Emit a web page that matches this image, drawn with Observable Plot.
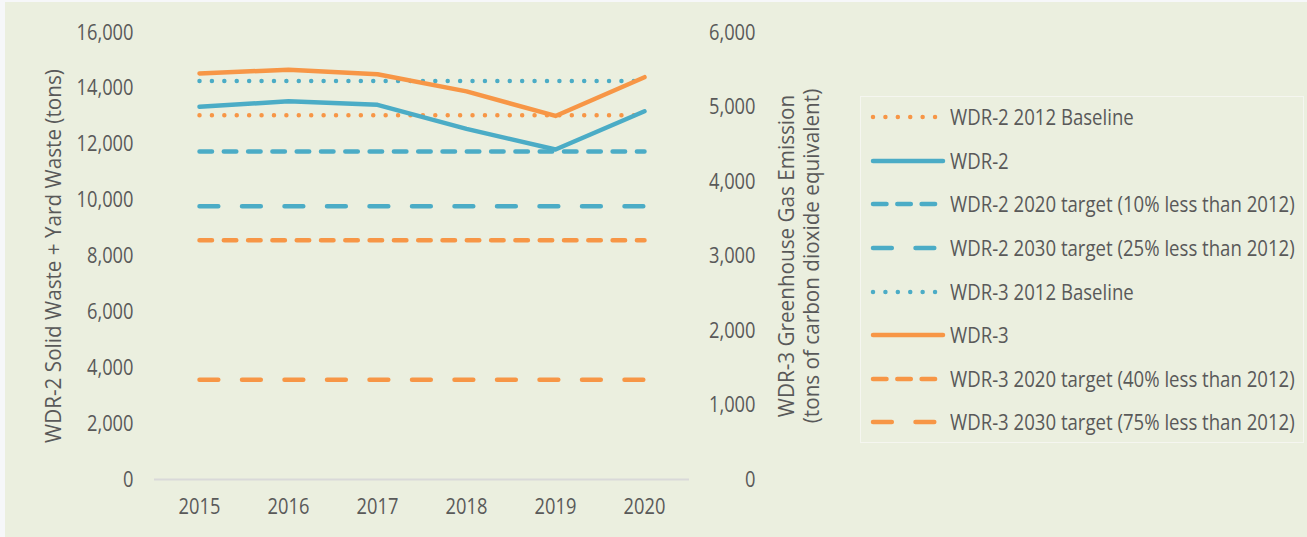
<!DOCTYPE html>
<html>
<head>
<meta charset="utf-8">
<script src="https://cdn.jsdelivr.net/npm/d3@7"></script>
<script src="https://cdn.jsdelivr.net/npm/@observablehq/plot@0.6"></script>
<style>
  html, body { margin: 0; padding: 0; background: #F6F7F9; }
  #bg { position: absolute; left: 5px; top: 2px; width: 1302px; height: 535px; background: #EBEFDF; }
  #chart { position: absolute; left: 0; top: 0; }
  #legend { position: absolute; left: 860px; top: 96px; width: 444px; height: 347px; border: 1.5px solid #F5F6F0; box-sizing: border-box;
    font-family: "Open Sans", sans-serif; font-size: 22px; color: #595959; }
  .row { position: absolute; left: 0; height: 43.6px; display: flex; align-items: center; white-space: nowrap; }
  .row svg { margin-left: 9px; margin-right: 3px; flex: none; }
  .row span { display: inline-block; transform: scaleX(0.845); transform-origin: left center; position: relative; top: -1px; }
</style>
</head>
<body>
<div id="bg"></div>
<div id="chart"></div>
<div id="legend"></div>
<script>
const years = [2015, 2016, 2017, 2018, 2019, 2020];
const wdr2 = [13340, 13540, 13410, 12550, 11810, 13180];
const wdr2Baseline = [13040, 13040, 13040, 13040, 13040, 13040];
const wdr2Target2020 = [11740, 11740, 11740, 11740, 11740, 11740];
const wdr2Target2030 = [9780, 9780, 9780, 9780, 9780, 9780];
const wdr3 = [5450, 5500, 5440, 5210, 4880, 5400];
const wdr3Baseline = [5350, 5350, 5350, 5350, 5350, 5350];
const wdr3Target2020 = [3210, 3210, 3210, 3210, 3210, 3210];
const wdr3Target2030 = [1340, 1340, 1340, 1340, 1340, 1340];
const leftTicks = [0, 2000, 4000, 6000, 8000, 10000, 12000, 14000, 16000];
const rightTicks = [0, 1000, 2000, 3000, 4000, 5000, 6000];
const leftTitle = "WDR-2 Solid Waste + Yard Waste (tons)";
const rightTitle = "WDR-3 Greenhouse Gas Emission\n(tons of carbon dioxide equivalent)";

const ORANGE = "#F79646", BLUE = "#4BACC6";
const DOT = "0.01 12.4", DASH = "12.5 11.8", LONG = "18.8 23.7";
const series = [
  {name: "WDR-2 2012 Baseline", values: wdr2Baseline, axis: "left", color: ORANGE, dash: DOT, legendDash: "0.01 12.4"},
  {name: "WDR-2", values: wdr2, axis: "left", color: BLUE, dash: null, legendDash: null},
  {name: "WDR-2 2020 target (10% less than 2012)", values: wdr2Target2020, axis: "left", color: BLUE, dash: DASH, legendDash: "13.5 10.8"},
  {name: "WDR-2 2030 target (25% less than 2012)", values: wdr2Target2030, axis: "left", color: BLUE, dash: LONG, legendDash: "18.8 23.7"},
  {name: "WDR-3 2012 Baseline", values: wdr3Baseline, axis: "right", color: BLUE, dash: DOT, legendDash: "0.01 12.4"},
  {name: "WDR-3", values: wdr3, axis: "right", color: ORANGE, dash: null, legendDash: null},
  {name: "WDR-3 2020 target (40% less than 2012)", values: wdr3Target2020, axis: "right", color: ORANGE, dash: DASH, legendDash: "13.5 10.8"},
  {name: "WDR-3 2030 target (75% less than 2012)", values: wdr3Target2030, axis: "right", color: ORANGE, dash: LONG, legendDash: "18.8 23.7"}
];
const ratio = leftTicks[leftTicks.length - 1] / rightTicks[rightTicks.length - 1];
const fmt = d3.format(",");
const SQUEEZE = 0.83, TITLE_SQUEEZE = 0.94;

const lineMarks = series.map(s => Plot.line(
  years.map((y, i) => ({year: y, value: s.values[i]})),
  {x: "year", y: d => s.axis === "right" ? d.value * ratio : d.value,
   stroke: s.color, strokeWidth: 4.5, strokeLinecap: "round", strokeLinejoin: "round",
   strokeDasharray: s.dash || undefined}
));

const plot = Plot.plot({
  width: 1307, height: 537,
  marginLeft: 154, marginRight: 618, marginTop: 32, marginBottom: 58,
  style: {background: "transparent", fontFamily: "'Open Sans', sans-serif", fontSize: "22px", color: "#595959", overflow: "visible"},
  x: {type: "point", domain: years, padding: 0.5},
  y: {domain: [0, 16000]},
  marks: [
    Plot.ruleY([0], {stroke: "#D9D9D9", strokeWidth: 2}),
    Plot.axisY(leftTicks, {anchor: "left", tickSize: 0, tickPadding: 21, tickFormat: fmt, label: null}),
    Plot.axisY(rightTicks.map(v => v * ratio), {anchor: "right", tickSize: 0, tickPadding: 66, textAnchor: "end", tickFormat: d => fmt(Math.round(d / ratio)), label: null}),
    Plot.axisX(years, {anchor: "bottom", tickSize: 0, tickPadding: 19, tickFormat: d => String(d), label: null}),
    ...lineMarks,
    Plot.text([leftTitle], {text: d => d, frameAnchor: "left", textAnchor: "middle", dx: -101, rotate: -90, fill: "#595959", className: "axis-title"}),
    Plot.text([rightTitle], {text: d => d, frameAnchor: "right", textAnchor: "middle", dx: 109, rotate: -90, lineHeight: 1.15, fill: "#595959", className: "axis-title"})
  ]
});
document.getElementById("chart").appendChild(plot);

// condense glyphs horizontally to mimic the narrow original typeface
plot.querySelectorAll("text").forEach(t => {
  const isTitle = !!t.closest(".axis-title");
  const f = isTitle ? TITLE_SQUEEZE : SQUEEZE;
  const spans = t.querySelectorAll("tspan");
  const targets = spans.length ? Array.from(spans) : [t];
  targets.forEach(el => {
    const n = el.getComputedTextLength();
    if (n > 0) {
      el.setAttribute("textLength", (n * f).toFixed(2));
      el.setAttribute("lengthAdjust", "spacingAndGlyphs");
    }
  });
});

const legend = document.getElementById("legend");
series.forEach((s, i) => {
  const row = document.createElement("div");
  row.className = "row";
  row.style.top = (i * 43.6 - 1.5) + "px";
  const svg = d3.create("svg").attr("width", 77).attr("height", 10);
  svg.append("line").attr("x1", 3).attr("x2", s.dash ? 71 : 73).attr("y1", 5).attr("y2", 5)
    .attr("stroke", s.color).attr("stroke-width", 4.5).attr("stroke-linecap", "round")
    .attr("stroke-dasharray", s.legendDash);
  row.appendChild(svg.node());
  const span = document.createElement("span");
  span.textContent = s.name;
  row.appendChild(span);
  legend.appendChild(row);
});
</script>
</body>
</html>
